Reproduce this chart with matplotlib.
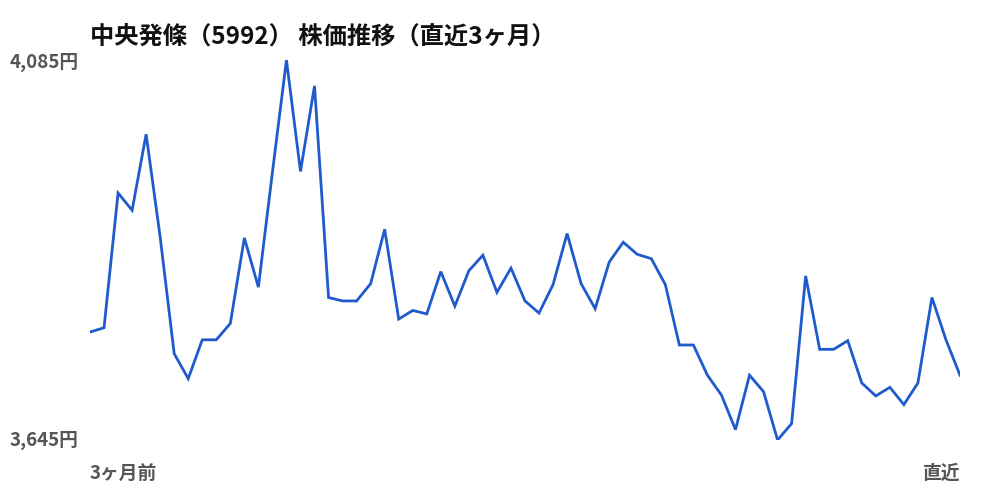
import matplotlib
matplotlib.use("Agg")
import matplotlib.pyplot as plt
import matplotlib.transforms as mtransforms

plt.rcParams['font.family'] = ['Noto Sans CJK JP', 'DejaVu Sans']

title = "中央発條（5992） 株価推移（直近3ヶ月）"
start_label = "3ヶ月前"
end_label = "直近"

prices = [
    3770, 3775, 3931, 3911, 3999, 3880, 3745, 3716, 3761, 3761,
    3780, 3879, 3822, 3955, 4085, 3956, 4055, 3810, 3806, 3806,
    3826, 3889, 3785, 3795, 3791, 3840, 3800, 3841, 3859, 3816,
    3844, 3806, 3792, 3825, 3884, 3826, 3797, 3851, 3874, 3860,
    3855, 3825, 3755, 3755, 3720, 3697, 3657, 3720, 3701, 3645,
    3664, 3835, 3750, 3750, 3760, 3711, 3696, 3706, 3686, 3711,
    3810, 3761, 3720,
]
days = list(range(len(prices)))

fig = plt.figure(figsize=(10, 5), dpi=100)
ax = fig.add_axes([0.09, 0.12, 0.87, 0.76])
ax.plot(days, prices, color='#1f5bcc', linewidth=2.0, solid_joinstyle='miter')
ymin, ymax = min(prices), max(prices)
ax.set_xlim(0, len(prices) - 1)
ax.set_ylim(ymin, ymax)
ax.axis('off')

fig.text(0.09, 0.927, title, fontsize=17.5, fontweight='bold', color='#111111',
         ha='left', va='center')

label_color = '#555555'
fig.text(0.01, 0.875, f"{ymax:,}円", ha='left', va='center',
         fontsize=13.5, fontweight='bold', color=label_color)
trans = mtransforms.blended_transform_factory(fig.transFigure, ax.transData)
ax.text(0.01, ymin, f"{ymin:,}円", transform=trans, ha='left', va='center',
        fontsize=13.5, fontweight='bold', color=label_color)

fig.text(0.09, 0.054, start_label, ha='left', va='center', fontsize=13.5,
         fontweight='bold', color=label_color)
fig.text(0.96, 0.054, end_label, ha='right', va='center', fontsize=13.5,
         fontweight='bold', color=label_color)

fig.savefig('out.png', dpi=100, facecolor='white')
